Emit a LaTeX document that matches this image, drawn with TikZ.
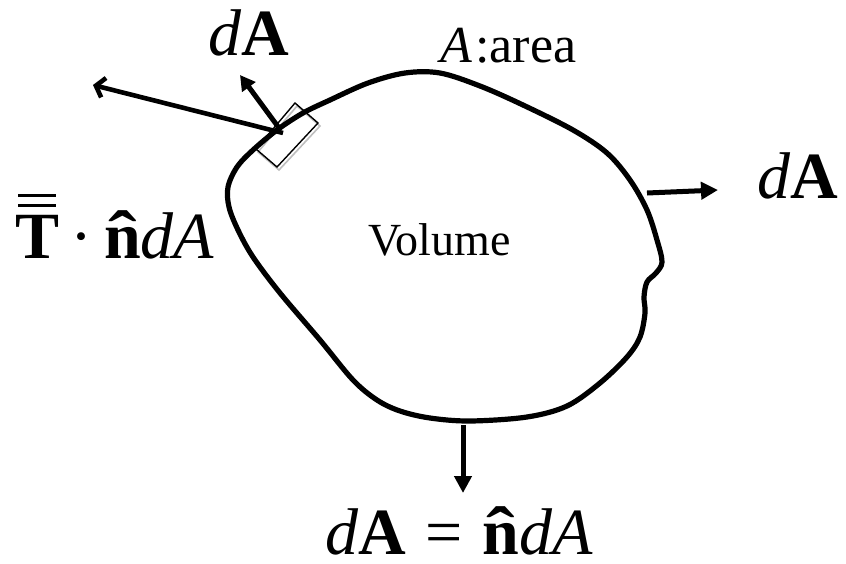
\documentclass[tikz,border=0pt]{standalone}
\usepackage{fontspec}
\usepackage{graphicx}
\setmainfont{Liberation Serif}
\usetikzlibrary{arrows.meta}
\newcommand{\nhat}{\ooalign{\textbf{n}\cr\hidewidth\raisebox{-0.02em}{\scalebox{1.3}[1.05]{\textbf{\char"02C6}}}\hidewidth\cr}}
\begin{document}
\begin{tikzpicture}[x=1pt,y=-1pt,
  blob/.style={line width=5.2pt, line join=round},
  vec/.style={line width=5pt, -{Triangle[length=17pt,width=17pt]}},
  openvec/.style={line width=4.6pt, -{Straight Barb[length=8pt,width=20pt]}},
  lbl/.style={inner sep=0pt, anchor=base west, font=\fontsize{66}{70}\selectfont},
  patch/.style={line width=1.4pt, fill=none}]
\useasboundingbox (0,0) rectangle (846,563);
% surface patch with faint shadow
\draw[line width=1.6pt, black!25] (297,106) -- (320,126) -- (279,170) -- (258,152) -- cycle;
\draw[patch] (295,103) -- (318,123) -- (277,167) -- (256,149) -- cycle;
% the volume boundary
\draw[blob] plot[smooth cycle, tension=0.55] coordinates {
 (228,187) (237,167) (253,150) (277,130) (303,113) (330,100) (368,83) (405,73)
 (440,73) (480,86) (523,105) (573,130) (607,153) (630,180) (647,210) (657,240)
 (662,262) (656,273) (647,282) (644,297) (645,313) (640,337) (627,357) (600,383)
 (567,406) (527,417) (470,421) (430,418) (400,411) (377,400) (353,380) (320,340)
 (280,293) (253,257) (238,230) (229,207)};
% coordinates of the vectors
\coordinate (p1) at (283,133);
\coordinate (t1) at (93,85);
\coordinate (p2) at (279,128);
\coordinate (t2) at (240,75);
\coordinate (p3) at (647,193);
\coordinate (t3) at (718,190);
\coordinate (p4) at (463,425);
\coordinate (t4) at (463,493);
\draw[openvec] (p1) -- (t1);
\draw[vec, -{Triangle[length=15pt,width=16pt]}] (p2) -- (t2);
\draw[vec] (p3) -- (t3);
\draw[vec] (p4) -- (t4);
% labels
\node[lbl] (dAtop) at (208,55) {\textit{d}\textbf{A}};
\node[lbl, font=\fontsize{52}{56}\selectfont] (area) at (440,62) {\textit{A}\hspace{3pt}:area};
\node[lbl] (dAright) at (757,198) {\textit{d}\textbf{A}};
\node[lbl] (T) at (15,258) {\textbf{T}};
\node[lbl] (Trest) at (T.base east) {\hspace{0.16em}·\hspace{0.18em}\nhat\textit{dA}};
\draw[line width=3.6pt] ([xshift=3pt,yshift=9pt]T.north west) -- ([xshift=-3pt,yshift=9pt]T.north east);
\draw[line width=3.6pt] ([xshift=3pt,yshift=19pt]T.north west) -- ([xshift=-3pt,yshift=19pt]T.north east);
\node[inner sep=0pt, anchor=base west, font=\fontsize{46}{50}\selectfont] (vol) at (368,255) {Volume};
\node[lbl] (eq) at (325,554) {\textit{d}\textbf{A}\hspace{0.3em}=\hspace{0.3em}\nhat\textit{dA}};
\end{tikzpicture}
\end{document}
